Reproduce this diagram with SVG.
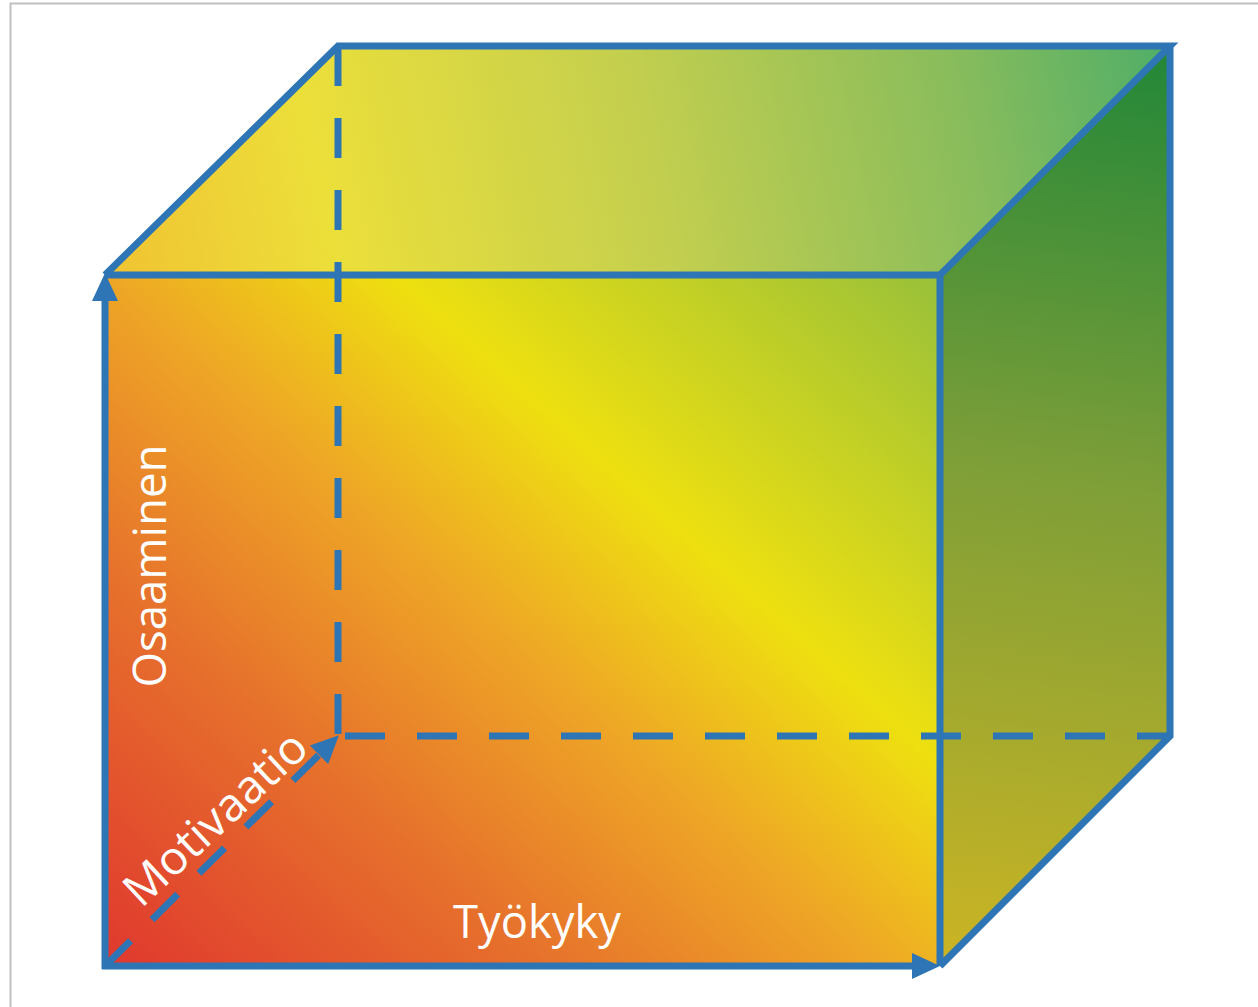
<svg xmlns="http://www.w3.org/2000/svg" width="1258" height="1007" viewBox="0 0 1258 1007">
  <style>
    .edge { fill: none; stroke: #2E75B6; stroke-width: 7; stroke-linejoin: miter; stroke-linecap: butt; }
    .hidden { stroke-dasharray: 40 32; }
    .label { fill: #ffffff; font-family: "Open Sans", "Noto Sans", "Liberation Sans", sans-serif; font-size: 46px; }
  </style>
  <defs>
    <linearGradient id="gradFront" gradientUnits="userSpaceOnUse" x1="105" y1="966" x2="820" y2="167">
      <stop offset="0" stop-color="#e0382e"/>
      <stop offset="0.27" stop-color="#e6702c"/>
      <stop offset="0.48" stop-color="#eea626"/>
      <stop offset="0.66" stop-color="#eee010"/>
      <stop offset="1" stop-color="#98c03a"/>
    </linearGradient>
    <linearGradient id="gradTop" gradientUnits="userSpaceOnUse" x1="120" y1="275" x2="1170" y2="46">
      <stop offset="0" stop-color="#f0c432"/>
      <stop offset="0.2" stop-color="#ecdf3a"/>
      <stop offset="0.5" stop-color="#c4cf4e"/>
      <stop offset="0.8" stop-color="#88bc5c"/>
      <stop offset="1" stop-color="#4fae68"/>
    </linearGradient>
    <linearGradient id="gradSide" gradientUnits="userSpaceOnUse" x1="1120" y1="60" x2="990" y2="960">
      <stop offset="0" stop-color="#258838"/>
      <stop offset="0.45" stop-color="#7c9e38"/>
      <stop offset="1" stop-color="#cab424"/>
    </linearGradient>
    <marker id="head" markerUnits="userSpaceOnUse" markerWidth="30" markerHeight="28" refX="14" refY="0" orient="auto" overflow="visible">
      <path d="M0,-13 L28,0 L0,13 Z" fill="#2E75B6"/>
    </marker>
  </defs>

  <!-- frame -->
  <rect x="10.5" y="3.5" width="1260" height="1020" fill="#ffffff" stroke="#c0c0c0" stroke-width="2"/>

  <!-- cube faces -->
  <g id="face-top">
    <polygon points="105,275 338,46 1170,46 940,275" fill="url(#gradTop)"/>
  </g>
  <g id="face-side">
    <polygon points="940,275 1170,46 1170,736 940,966" fill="url(#gradSide)"/>
  </g>
  <g id="face-front">
    <rect x="105" y="275" width="835" height="691" fill="url(#gradFront)"/>
  </g>

  <!-- cube edges and axes -->
  <g id="connectors">
    <!-- hidden back edges -->
    <line class="edge hidden" x1="338" y1="46" x2="338" y2="736"/>
    <line class="edge hidden" x1="345" y1="736" x2="1170" y2="736"/>
    <!-- visible edges -->
    <polyline class="edge" points="105,275 940,275 940,966"/>
    <polyline class="edge" points="105,275 338,46 1170,46 940,275"/>
    <polyline class="edge" points="1170,46 1170,736 940,966"/>
    <!-- axes -->
    <line class="edge" x1="105" y1="969" x2="105" y2="287" marker-end="url(#head)"/>
    <line class="edge" x1="102" y1="966" x2="926" y2="966" marker-end="url(#head)"/>
    <line class="edge hidden" x1="105" y1="966" x2="329" y2="745" marker-end="url(#head)" style="stroke-dasharray: 36 30"/>
  </g>

  <!-- axis labels -->
  <g id="label-tyokyky">
    <text class="label" x="537" y="938" text-anchor="middle" textLength="168" lengthAdjust="spacingAndGlyphs">Työkyky</text>
  </g>
  <g id="label-osaaminen">
    <text class="label" transform="translate(166,566) rotate(-90)" text-anchor="middle" textLength="243" lengthAdjust="spacingAndGlyphs">Osaaminen</text>
  </g>
  <g id="label-motivaatio">
    <text class="label" transform="translate(226,830) rotate(-43)" text-anchor="middle" textLength="232" lengthAdjust="spacingAndGlyphs">Motivaatio</text>
  </g>
</svg>
